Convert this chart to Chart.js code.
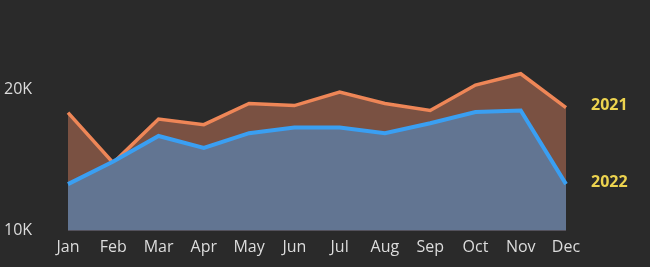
<!DOCTYPE html>
<html>
<head>
<meta charset="utf-8">
<script src="https://cdn.jsdelivr.net/npm/chart.js@4/dist/chart.umd.min.js"></script>
<style>
  html, body { margin: 0; padding: 0; background: #2a2a2a; }
  #wrap { width: 650px; height: 267px; }
</style>
</head>
<body>
<div id="wrap"><canvas id="chart"></canvas></div>
<script>
// --- data ---
const months = ['Jan', 'Feb', 'Mar', 'Apr', 'May', 'Jun', 'Jul', 'Aug', 'Sep', 'Oct', 'Nov', 'Dec'];
const sales2021 = [18350, 14800, 17900, 17500, 19000, 18850, 19800, 19000, 18500, 20300, 21100, 18700];
const sales2022 = [13300, 14900, 16700, 15850, 16900, 17300, 17300, 16900, 17600, 18400, 18500, 13300];
const yTicks = [10000, 20000];

const FONT = '"Open Sans", "Noto Sans", sans-serif';

// --- series name at the end of each line ---
const endLabels = {
  id: 'endLabels',
  afterDatasetsDraw(chart) {
    const ctx = chart.ctx;
    ctx.save();
    ctx.font = 'bold 16px ' + FONT;
    ctx.fillStyle = '#ecd34f';
    ctx.textBaseline = 'middle';
    ctx.textAlign = 'left';
    chart.data.datasets.forEach((ds, i) => {
      const meta = chart.getDatasetMeta(i);
      const last = meta.data[meta.data.length - 1];
      ctx.fillText(ds.label, chart.chartArea.right + 25, last.y - 2);
    });
    ctx.restore();
  }
};

new Chart(document.getElementById('chart'), {
  type: 'line',
  data: {
    labels: months,
    datasets: [
      {
        label: '2022',
        data: sales2022,
        borderColor: '#3a9ff2',
        backgroundColor: '#627592',
        borderWidth: 4,
        fill: 'start',
        pointRadius: 0,
        tension: 0
      },
      {
        label: '2021',
        data: sales2021,
        borderColor: '#ee8657',
        backgroundColor: '#7a5142',
        borderWidth: 3.5,
        fill: 'start',
        pointRadius: 0,
        tension: 0
      }
    ]
  },
  options: {
    responsive: true,
    maintainAspectRatio: false,
    animation: false,
    layout: { padding: { left: 4, right: 84, top: 61, bottom: 3 } },
    plugins: { legend: { display: false }, tooltip: { enabled: false } },
    scales: {
      x: {
        offset: false,
        grid: { display: false, drawTicks: false },
        border: { display: false },
        ticks: { color: '#dcdcdc', font: { family: FONT, size: 16 }, padding: 7, maxRotation: 0, autoSkip: false }
      },
      y: {
        min: 10000,
        max: 22000,
        afterBuildTicks(scale) { scale.ticks = yTicks.map(v => ({ value: v })); },
        afterFit(scale) { scale.width = 64; },
        grid: { display: false, drawTicks: false },
        border: { display: false },
        ticks: {
          color: '#dcdcdc',
          font: { family: FONT, size: 16 },
          crossAlign: 'far',
          padding: 0,
          callback: v => (v / 1000) + 'K'
        }
      }
    }
  },
  plugins: [endLabels]
});
</script>
</body>
</html>
